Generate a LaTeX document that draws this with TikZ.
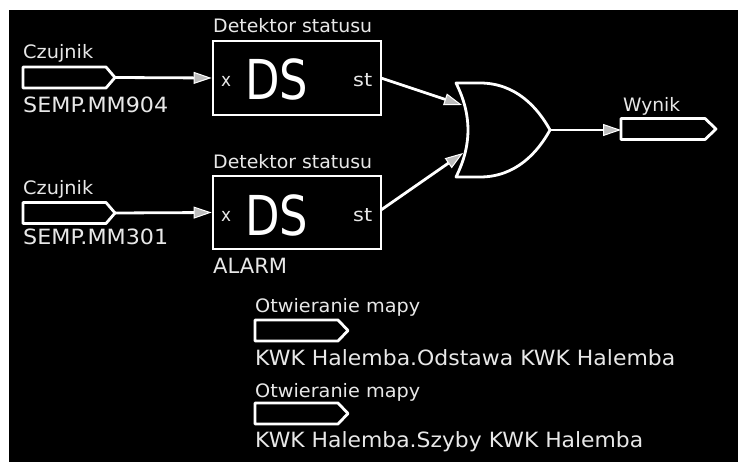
\documentclass[tikz,border=0pt]{standalone}
\usepackage{graphicx}
\usepackage{fontspec}
\setmainfont{DejaVu Sans}
\usetikzlibrary{arrows.meta}
\definecolor{txt}{HTML}{E8E8E8}
\definecolor{tipfill}{HTML}{BDBDBD}
\newcommand{\fitw}[2]{\resizebox{#1}{\height}{#2}}
\tikzset{
  wire/.style={draw=white, line width=2.8pt, -{Triangle[length=18pt,width=12pt,fill=tipfill,line width=1pt]}},
  outl/.style={draw=white, line width=2.8pt, line join=round},
  smalltxt/.style={text=txt, inner sep=0pt, anchor=base west, font=\fontsize{18.5}{22}\selectfont},
  bigtxt/.style={text=txt, inner sep=0pt, anchor=base west, font=\fontsize{21}{25}\selectfont},
  dslabel/.style={text=white, inner sep=0pt, anchor=base west, font=\fontsize{55}{60}\selectfont},
  dsbox/.style={draw=white, line width=2.8pt, minimum width=168pt, inner sep=0pt},
}
\begin{document}
\begin{tikzpicture}[x=1pt,y=-1pt]
\useasboundingbox (0,0) rectangle (738,462);
\fill[white] (0,0) rectangle (738,462);
\fill[black] (9,10) rectangle (738,462);

% input tags
\draw[outl] (23,67) -- (106,67) -- (115,77.5) -- (106,88) -- (23,88) -- cycle;
\coordinate (in1) at (115,77.5);
\draw[outl] (23,202.5) -- (106,202.5) -- (115,213) -- (106,223.5) -- (23,223.5) -- cycle;
\coordinate (in2) at (115,213);
\node[smalltxt] (cz1) at (23,59) {\fitw{70pt}{Czujnik}};
\node[bigtxt] (sm1) at (23,113) {\fitw{145pt}{SEMP.MM904}};
\node[smalltxt] (cz2) at (23,195) {\fitw{70pt}{Czujnik}};
\node[bigtxt] (sm2) at (23,244) {\fitw{145pt}{SEMP.MM301}};

% DS boxes
\node[dsbox, minimum height=74pt] (ds1) at (297,78) {};
\node[dsbox, minimum height=73pt] (ds2) at (297,212.5) {};
\node[smalltxt] (dt1) at (213,33) {\fitw{159pt}{Detektor statusu}};
\node[smalltxt] (dt2) at (213,169) {\fitw{159pt}{Detektor statusu}};
\node[smalltxt] (x1) at (221,87) {\fitw{10pt}{x}};
\node[smalltxt] (st1) at (353,87) {\fitw{19pt}{st}};
\node[smalltxt] (x2) at (221,222) {\fitw{10pt}{x}};
\node[smalltxt] (st2) at (353,222) {\fitw{19pt}{st}};
\node[dslabel] (dsl1) at (245,100) {\fitw{63pt}{DS}};
\node[dslabel] (dsl2) at (245,236) {\fitw{63pt}{DS}};
\node[bigtxt] (al) at (213,273) {\fitw{74pt}{ALARM}};

\draw[wire] (in1) -- (ds1.west);
\draw[wire] (in2) -- (ds2.west);

% OR gate
\draw[outl] (456,83) -- (480,83) .. controls (516,83) and (538,108) .. (550,130)
  .. controls (538,152) and (516,177) .. (480,177) -- (456,177)
  .. controls (472,145) and (472,115) .. (456,83) -- cycle;
\coordinate (or1) at (462,105);
\coordinate (or2) at (463,153);
\coordinate (orout) at (550,130);
\coordinate (ds1o) at (381,78);
\coordinate (ds2o) at (381,210);
\draw[wire] (ds1o) -- (or1);
\draw[wire] (ds2o) -- (or2);

% output tag
\draw[outl] (621,118.5) -- (705,118.5) -- (716,129) -- (705,139.5) -- (621,139.5) -- cycle;
\coordinate (wy) at (621,130);
\node[smalltxt] (wyl) at (623,112) {\fitw{57pt}{Wynik}};
\draw[wire] (orout) -- (wy);

% map tags
\draw[outl] (255,320) -- (338,320) -- (348,330.5) -- (338,341) -- (255,341) -- cycle;
\draw[outl] (255,403) -- (338,403) -- (348,413.5) -- (338,424) -- (255,424) -- cycle;
\node[smalltxt] (om1) at (255,312) {\fitw{165pt}{Otwieranie mapy}};
\node[bigtxt] (k1) at (255,365) {\fitw{420pt}{KWK Halemba.Odstawa KWK Halemba}};
\node[smalltxt] (om2) at (255,397) {\fitw{165pt}{Otwieranie mapy}};
\node[bigtxt] (k2) at (255,447) {\fitw{388pt}{KWK Halemba.Szyby KWK Halemba}};
\end{tikzpicture}
\end{document}
